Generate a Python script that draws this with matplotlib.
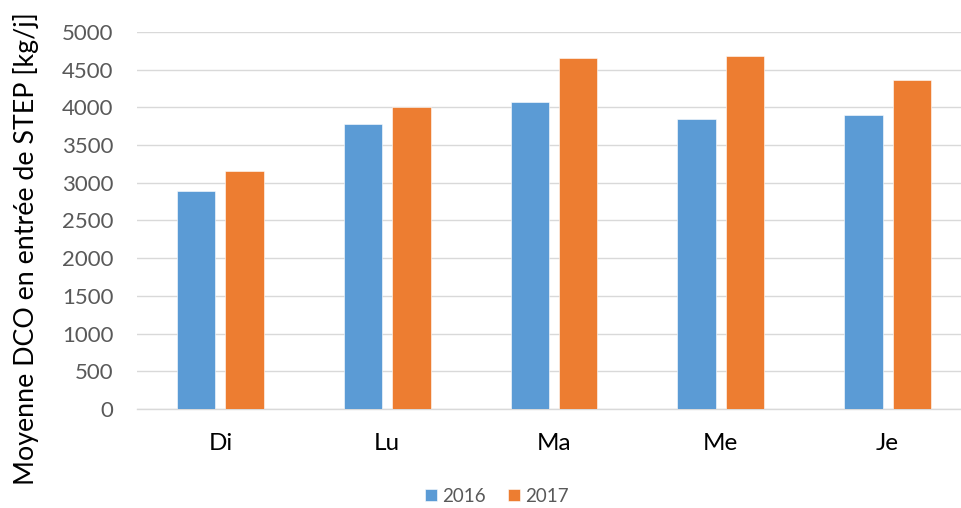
import numpy as np
import matplotlib.pyplot as plt

plt.rcParams['font.family'] = ['Lato', 'DejaVu Sans']

# Mean COD load entering the treatment plant, by day of week
jours = ['Di', 'Lu', 'Ma', 'Me', 'Je']
dco_2016 = [2890, 3780, 4070, 3840, 3900]
dco_2017 = [3150, 4000, 4650, 4680, 4370]

blue = '#5B9BD5'
orange = '#ED7D31'
grid_grey = '#D9D9D9'
text_grey = '#595959'

fig = plt.figure(figsize=(9.61, 5.08), dpi=100)
ax = fig.add_axes([137 / 961, 99 / 508, 824 / 961, 377 / 508])

x = np.arange(len(jours))
w = 0.23
off = 0.145
ax.bar(x - off, dco_2016, w, color=blue, label='2016', zorder=3,
       edgecolor='white', linewidth=0.4)
ax.bar(x + off, dco_2017, w, color=orange, label='2017', zorder=3,
       edgecolor='white', linewidth=0.4)

ax.set_xlim(-0.5, 4.44)
ax.set_ylim(0, 5000)
ax.set_yticks(np.arange(0, 5001, 500))
ax.yaxis.grid(True, color=grid_grey, linewidth=1.0, zorder=0)
ax.set_axisbelow(True)

for s in ['top', 'right', 'left']:
    ax.spines[s].set_visible(False)
ax.spines['bottom'].set_color(grid_grey)
ax.spines['bottom'].set_linewidth(1.0)

ax.tick_params(axis='y', length=0, pad=17, labelsize=16, labelcolor=text_grey)
ax.tick_params(axis='x', length=0, pad=17, labelsize=17.5, labelcolor='black')
ax.set_xticks(x)
ax.set_xticklabels(jours)

ax.set_ylabel('Moyenne DCO en entrée de STEP [kg/j]', fontsize=19.3, color='black')
ax.yaxis.set_label_coords(-0.119, 0.425)

fig.legend(loc='center', bbox_to_anchor=(497 / 961, 1 - 496 / 508), ncol=2,
           frameon=False, fontsize=13.5, handlelength=0.6, handleheight=0.6,
           handletextpad=0.3, columnspacing=1.2, labelcolor=text_grey)

fig.savefig('out.png', dpi=100)
